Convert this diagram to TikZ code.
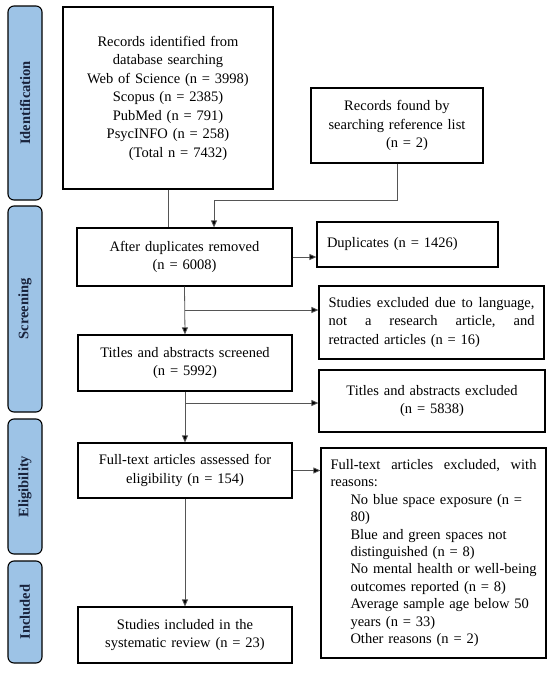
\documentclass[tikz,border=0pt]{standalone}
\usepackage{fontspec}
\setmainfont{Liberation Serif}
\usetikzlibrary{arrows.meta}
\definecolor{sideblue}{RGB}{157,195,230}
\definecolor{navytext}{RGB}{25,35,60}
\definecolor{linegray}{RGB}{85,85,85}
\newcommand{\ind}[1]{\mbox{\hspace*{20pt}#1}}
\newcommand{\fullline}[1]{\leavevmode\hbox to 206pt{#1}}
\begin{document}
\begin{tikzpicture}[x=1pt,y=-1pt,
 box/.style={draw=black,line width=1.2pt,fill=white,inner sep=0pt,align=center,font=\fontsize{14.5}{18.5}\selectfont},
 side/.style={draw=black,line width=1.1pt,fill=sideblue,rounded corners=6pt,rotate=90,minimum height=34pt,inner sep=0pt,font=\fontsize{14.5}{17}\selectfont\bfseries,text=navytext},
 conn/.style={draw=linegray,line width=0.8pt},
 arr/.style={conn,-{Triangle[length=7pt,width=6pt,fill=black]}}
]
\fill[white] (0,0) rectangle (550,681);
\useasboundingbox (0,0) rectangle (550,681);

% side bars
\node[side,minimum width=194pt] (s1) at (25,103) {Identification};
\node[side,minimum width=206pt] (s2) at (25,309) {Screening};
\node[side,minimum width=135pt] (s3) at (25,486.5) {Eligibility};
\node[side,minimum width=102pt] (s4) at (25,612) {Included};

% main boxes
\node[box,minimum width=210pt,minimum height=182pt,text width=200pt] (ident) at (168,98)
 {Records identified from\\database searching\\Web of Science (n = 3998)\\Scopus (n = 2385)\\PubMed (n = 791)\\PsycINFO (n = 258)\\\hspace*{20pt}(Total n = 7432)};
\node[box,minimum width=172pt,minimum height=75pt,text width=165pt] (ref) at (397,125.5)
 {Records found by\\searching reference list\\\hspace*{20pt}(n = 2)};
\node[box,minimum width=215pt,minimum height=58pt,text width=205pt] (dup) at (184.5,257)
 {After duplicates removed\\(n = 6008)};
\node[box,minimum width=181pt,minimum height=45pt,text width=161pt,align=left] (dupl) at (407.5,244.5)
 {Duplicates (n = 1426)};
\node[box,minimum width=225pt,minimum height=73pt,text width=206pt,align=left] (ex1) at (431.5,322.5)
 {\fullline{Studies\hfill excluded\hfill due\hfill to\hfill language,}\\\fullline{not\hfill a\hfill research\hfill article,\hfill and}\\retracted articles (n = 16)};
\node[box,minimum width=214pt,minimum height=56pt,text width=205pt] (scr) at (185,363)
 {Titles and abstracts screened\\(n = 5992)};
\node[box,minimum width=226pt,minimum height=62pt,text width=215pt] (tex) at (432,401)
 {Titles and abstracts excluded\\(n = 5838)};
\node[box,minimum width=214pt,minimum height=55pt,text width=205pt] (ft) at (185,470.5)
 {Full-text articles assessed for\\eligibility (n = 154)};
\node[box,minimum width=225pt,minimum height=210pt,text width=206pt,align=left,font=\fontsize{14.5}{17.4}\selectfont] (ftex) at (433.5,553)
 {\fullline{Full-text\hfill articles\hfill excluded,\hfill with}\\reasons:\\
 \ind{No blue space exposure (n =}\\
 \ind{80)}\\
 \ind{Blue and green spaces not}\\
 \ind{distinguished (n = 8)}\\
 \ind{No mental health or well-being}\\
 \ind{outcomes reported (n = 8)}\\
 \ind{Average sample age below 50}\\
 \ind{years (n = 33)}\\
 \ind{Other reasons (n = 2)}};
\node[box,minimum width=214pt,minimum height=56pt,text width=205pt] (inc) at (185,635)
 {Studies included in the\\systematic review (n = 23)};

% connectors
\coordinate (j1) at (214,200.7);
\coordinate (b1) at (184.5,310);
\coordinate (b2) at (185,403);
\draw[conn] (ident.south) -- (ident.south |- dup.north);
\draw[arr] (ref.south) |- (j1) -- (j1 |- dup.north);
\draw[arr] (dup.east) -- (dup.east -| dupl.west);
\draw[arr] (dup.south) -- (scr.north);
\draw[arr] (b1) -- (b1 -| ex1.west);
\draw[arr] (scr.south) -- (ft.north);
\draw[arr] (b2) -- (b2 -| tex.west);
\draw[arr] (ft.east) -- (ft.east -| ftex.west);
\draw[arr] (ft.south) -- (inc.north);
\end{tikzpicture}
\end{document}
